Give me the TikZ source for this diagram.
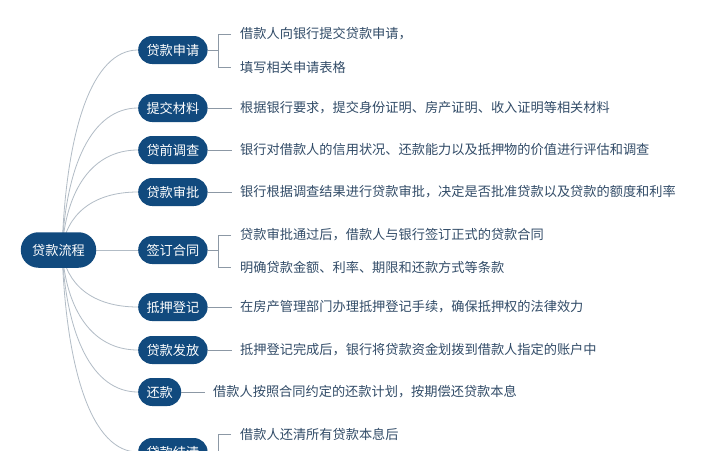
\documentclass[tikz,border=0pt]{standalone}
\usepackage{fontspec}
\setmainfont{Noto Sans CJK SC}
\usetikzlibrary{backgrounds}
\definecolor{pillc}{RGB}{17,74,126}
\definecolor{txtc}{RGB}{50,76,104}
\definecolor{curvec}{RGB}{178,188,198}
\definecolor{linec}{RGB}{140,152,165}
\begin{document}
\begin{tikzpicture}[x=1pt,y=-1pt,
  fs/.style={font=\fontsize{13.2}{13.2}\selectfont},
  pill/.style={fs, fill=pillc, text=white, rounded corners=13.9pt, minimum height=28pt, inner xsep=8.3pt, inner ysep=0pt, anchor=west},
  rootpill/.style={fs, fill=pillc, text=white, rounded corners=17.6pt, minimum height=35.5pt, inner xsep=11.3pt, inner ysep=0pt},
  sub/.style={fs, text=txtc, inner sep=0pt, anchor=west},
  conn/.style={draw=curvec, line width=0.8pt},
  tick/.style={draw=linec, line width=0.8pt},
]
\useasboundingbox (0,0) rectangle (703,450);
\begin{scope}[on background layer]
\fill[white] (0,0) rectangle (703,450);
\end{scope}

\node[rootpill] (root) at (58.5,250) {贷款流程};

\node[pill] (b1) at (138,50) {贷款申请};
\node[pill] (b2) at (138,108) {提交材料};
\node[pill] (b3) at (138,150) {贷前调查};
\node[pill] (b4) at (138,192) {贷款审批};
\node[pill] (b5) at (138,250) {签订合同};
\node[pill] (b6) at (138,307) {抵押登记};
\node[pill] (b7) at (138,350) {贷款发放};
\node[pill] (b8) at (138,392) {还款};
\node[pill] (b9) at (138,452) {贷款结清};

\node[sub] (t1a) at (240,34) {借款人向银行提交贷款申请，};
\node[sub] (t1b) at (240,67) {填写相关申请表格};
\node[sub] (t2) at (240,108) {根据银行要求，提交身份证明、房产证明、收入证明等相关材料};
\node[sub] (t3) at (240,150) {银行对借款人的信用状况、还款能力以及抵押物的价值进行评估和调查};
\node[sub] (t4) at (240,192) {银行根据调查结果进行贷款审批，决定是否批准贷款以及贷款的额度和利率};
\node[sub] (t5a) at (240,235) {贷款审批通过后，借款人与银行签订正式的贷款合同};
\node[sub] (t5b) at (240,267) {明确贷款金额、利率、期限和还款方式等条款};
\node[sub] (t6) at (240,307) {在房产管理部门办理抵押登记手续，确保抵押权的法律效力};
\node[sub] (t7) at (240,350) {抵押登记完成后，银行将贷款资金划拨到借款人指定的账户中};
\node[sub] (t8) at (213,392) {借款人按照合同约定的还款计划，按期偿还贷款本息};
\node[sub] (t9a) at (240,434) {借款人还清所有贷款本息后};
\coordinate (t9b) at (240,468);

\begin{scope}[on background layer]
\foreach \b/\y in {b1/50,b2/108,b3/150,b4/192,b6/307,b7/350,b8/392,b9/452}{
  \draw[conn] ([xshift=3.5pt]root.center) .. controls (66,{250+0.6*(\y-250)}) and (92,\y) .. (\b.west);
}
\draw[conn] (root.east) -- (b5.west);
\end{scope}

% single connectors
\foreach \b/\t in {b2/t2,b3/t3,b4/t4,b6/t6,b7/t7,b8/t8}{
  \draw[tick] (\b.east) -- ([xshift=-8.5pt]\t.west);
}
% brackets
\foreach \b/\ta/\tb in {b1/t1a/t1b,b5/t5a/t5b,b9/t9a/t9b}{
  \draw[tick] (\b.east) -- ++(11,0);
  \draw[tick] ([xshift=-9pt]\ta.west) -| ([xshift=-22pt]\tb.west) -- ([xshift=-9pt]\tb.west);
}
\end{tikzpicture}
\end{document}
